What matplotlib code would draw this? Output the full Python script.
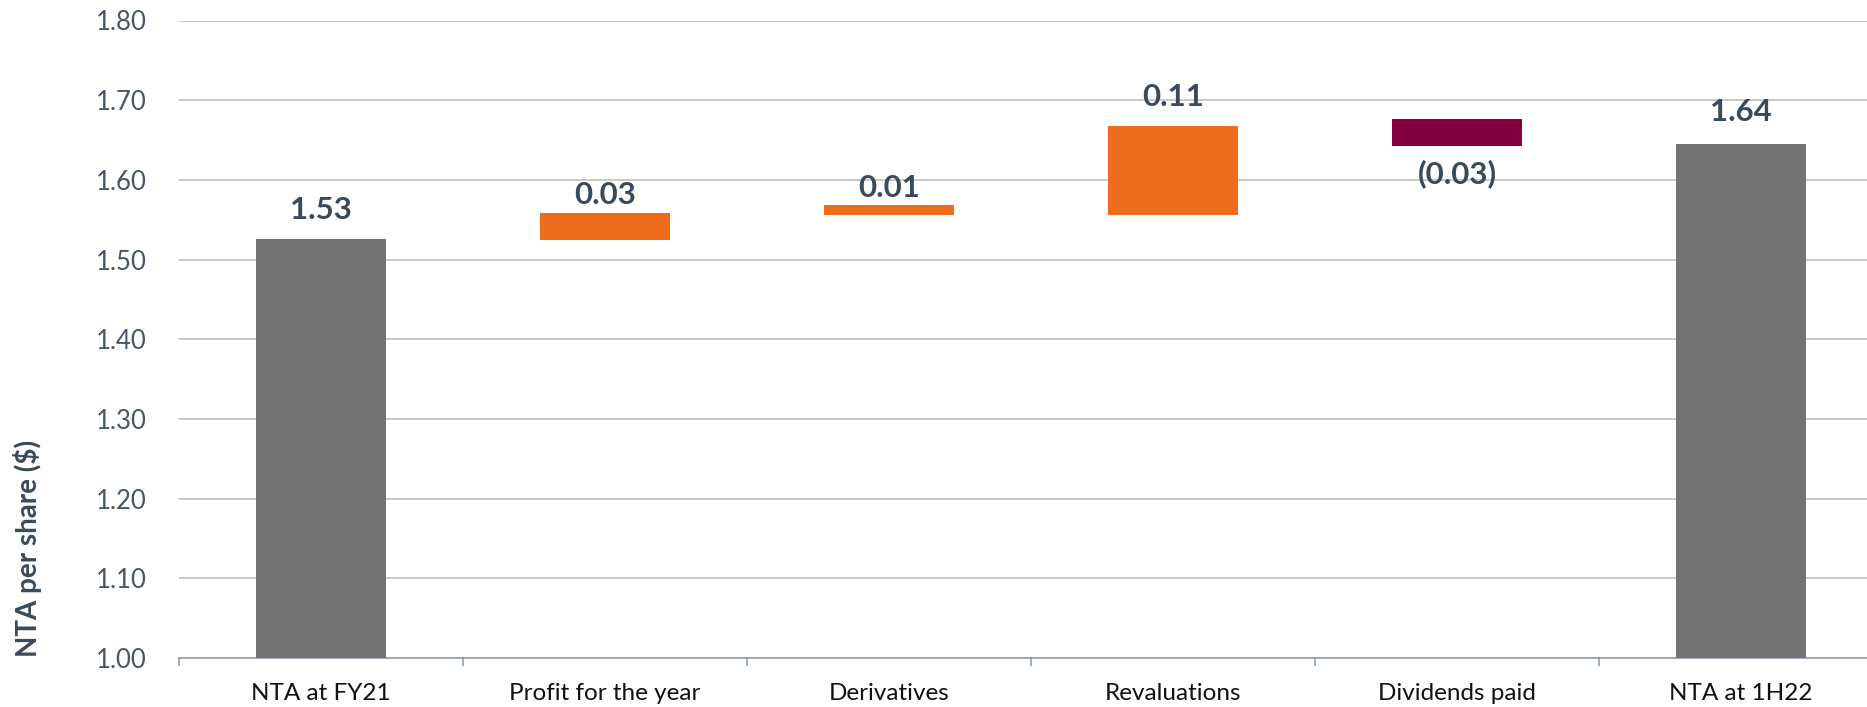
import matplotlib
matplotlib.use('Agg')
import matplotlib.pyplot as plt
from matplotlib.ticker import MultipleLocator, FixedLocator

plt.rcParams['font.family'] = ['Lato', 'DejaVu Sans']

# dados
categorias = ['NTA at FY21', 'Profit for the year', 'Derivatives', 'Revaluations',
              'Dividends paid', 'NTA at 1H22']
base_barras = [1.00, 1.524, 1.556, 1.556, 1.642, 1.00]
topo_barras = [1.526, 1.558, 1.568, 1.667, 1.677, 1.645]
rotulos = ['1.53', '0.03', '0.01', '0.11', '(0.03)', '1.64']

cores = ['#737373', '#EE6C1B', '#EE6C1B', '#EE6C1B', '#7F003C', '#737373']
# deslocamento do rótulo em pixels (positivo = acima do topo, negativo = abaixo da base)
desloc = [29, 18, 17, 29, -27, 32]

cor_texto = '#3B4A5A'

fig = plt.figure(figsize=(18.67, 7.07), dpi=100)
ax = fig.add_axes([179/1867, 49/707, 1704/1867, 637.5/707])

alturas = [t - b for t, b in zip(topo_barras, base_barras)]
x = list(range(len(categorias)))
ax.bar(x, alturas, bottom=base_barras, width=0.46, color=cores, zorder=3)

# rótulos de valor
for i in x:
    if desloc[i] >= 0:
        y_ref = topo_barras[i]
    else:
        y_ref = base_barras[i]
    ax.annotate(rotulos[i], (i, y_ref), xytext=(0, desloc[i] * 0.72),
                textcoords='offset points', ha='center', va='center',
                fontsize=22.5, fontweight='bold', color=cor_texto, zorder=4)

ax.set_xlim(-0.5, 5.5)
ax.set_ylim(1.0, 1.8)

# grade horizontal
ax.yaxis.set_major_locator(MultipleLocator(0.1))
ax.yaxis.set_major_formatter(plt.FuncFormatter(lambda v, p: f'{v:.2f}'))
ax.grid(axis='y', color='#BBBBBB', linewidth=1.1, zorder=0)
ax.tick_params(axis='y', length=0, pad=23, labelsize=18.5, labelcolor='#465667')

# eixo x: rótulos no centro, traços nas divisões
ax.set_xticks(x)
ax.set_xticklabels(categorias)
ax.tick_params(axis='x', which='major', length=0, pad=18, labelsize=17.5, labelcolor='#111111')
ax.xaxis.set_minor_locator(FixedLocator([i - 0.5 for i in range(len(categorias) + 1)]))
ax.tick_params(axis='x', which='minor', length=6, width=1.1, color='#8896A5')

for lado in ['top', 'right', 'left']:
    ax.spines[lado].set_visible(False)
ax.spines['bottom'].set_color('#8896A5')
ax.spines['bottom'].set_linewidth(1.1)

fig.text(28/1867, 1 - 548/707, 'NTA per share ($)', rotation=90, ha='center', va='center',
         fontsize=20, fontweight='bold', color=cor_texto)

plt.savefig('out.png', dpi=100)
